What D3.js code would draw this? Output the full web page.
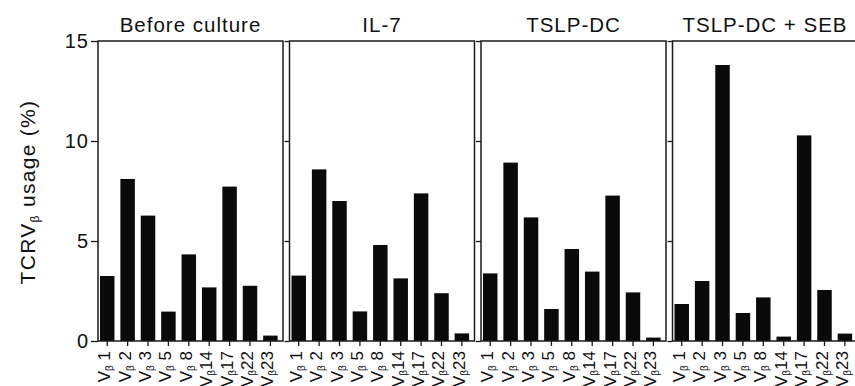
<!DOCTYPE html>
<html>
<head>
<meta charset="utf-8">
<script src="https://cdn.jsdelivr.net/npm/d3@7/dist/d3.min.js"></script>
<style>
  body { margin: 0; background: #fff; }
  svg text { font-family: "Liberation Sans", Arial, sans-serif; fill: #111; }
</style>
</head>
<body>
<script>
const panels = ["Before culture", "IL-7", "TSLP-DC", "TSLP-DC + SEB"];
const genes = ["1", "2", "3", "5", "8", "14", "17", "22", "23"];

// TCR Vbeta usage (%) per panel
const beforeCulture = [3.25, 8.1, 6.27, 1.47, 4.33, 2.68, 7.72, 2.76, 0.27];
const il7 = [3.27, 8.58, 7.0, 1.48, 4.8, 3.13, 7.38, 2.39, 0.38];
const tslpDc = [3.38, 8.92, 6.18, 1.6, 4.6, 3.47, 7.27, 2.43, 0.17];
const tslpDcSeb = [1.85, 3.0, 13.8, 1.4, 2.18, 0.22, 10.28, 2.55, 0.37];

const yTicks = [0, 5, 10, 15];
const seriesList = [beforeCulture, il7, tslpDc, tslpDcSeb];

let WIDTH = 855,
    HEIGHT = 386;

let svg = d3.select("body").append("svg")
  .attr("width", WIDTH)
  .attr("height", HEIGHT);

let y = d3.scaleLinear()
  .domain([0, 15])
  .range([341, 41]);

let panelX = d3.scaleBand()
  .domain(panels)
  .range([98, 857.5])
  .paddingInner(0.034)
  .paddingOuter(0);

let pw = panelX.bandwidth();

let x = d3.scaleBand()
  .domain(genes)
  .range([0, pw])
  .paddingInner(0.29)
  .paddingOuter(0.18)
  .align(0.27);

panels.forEach((name, p) => {
  let g = svg.append("g")
    .attr("transform", "translate(" + panelX(name) + ",0)");

  // bars
  let rows = genes.map((gene, i) => ({gene: gene, value: seriesList[p][i]}));
  g.selectAll(".bar")
    .data(rows)
  .enter().append("rect")
    .attr("class", "bar")
    .attr("x", d => x(d.gene))
    .attr("width", x.bandwidth())
    .attr("y", d => y(d.value))
    .attr("height", d => y(0) - y(d.value))
    .attr("fill", "#0a0a0a");

  // panel box
  g.append("rect")
    .attr("x", 0)
    .attr("y", y(15))
    .attr("width", pw)
    .attr("height", y(0) - y(15))
    .attr("fill", "none")
    .attr("stroke", "#1a1a1a")
    .attr("stroke-width", 1.5);

  // y axis
  let yAxis = d3.axisLeft(y)
    .tickValues(yTicks)
    .tickSize(p === 0 ? 7 : 5)
    .tickPadding(2);
  if (p > 0) yAxis.tickFormat("");
  let ya = g.append("g").call(yAxis);
  ya.select(".domain").remove();
  ya.selectAll("line").attr("stroke", "#1a1a1a").attr("stroke-width", 1.3);
  ya.selectAll("text")
    .attr("font-size", 20)
    .attr("letter-spacing", 1)
    .attr("fill", "#111");

  // x axis ticks
  let xa = g.append("g")
    .attr("transform", "translate(0," + y(0) + ")")
    .call(d3.axisBottom(x).tickSize(5).tickFormat(""));
  xa.select(".domain").remove();
  xa.selectAll("line").attr("stroke", "#1a1a1a").attr("stroke-width", 1.3);

  // rotated V-beta labels
  let lab = g.selectAll(".vlab")
    .data(genes)
  .enter().append("text")
    .attr("class", "vlab")
    .attr("transform", d => "translate(" + (x(d) + x.bandwidth() / 2) + ",351) rotate(-90)")
    .attr("text-anchor", "end")
    .attr("dy", 3)
    .attr("font-size", 17);
  lab.append("tspan").text("V");
  lab.append("tspan").attr("font-size", 10).attr("dy", 3).text("\u03b2");
  lab.append("tspan").attr("dy", -3).text(d => (d.length < 2 ? "\u00a0" : "") + d);

  // panel title
  g.append("text")
    .attr("x", pw / 2)
    .attr("y", 32)
    .attr("text-anchor", "middle")
    .attr("font-size", 20.5)
    .attr("letter-spacing", 1)
    .text(name);
});

// y axis title
let yt = svg.append("text")
  .attr("transform", "translate(35,192) rotate(-90)")
  .attr("text-anchor", "middle")
  .attr("font-size", 21)
  .attr("letter-spacing", 1.3);
yt.append("tspan").text("TCRV");
yt.append("tspan").attr("font-size", 12).attr("dy", 4).text("\u03b2");
yt.append("tspan").attr("dy", -4).text(" usage (%)");
</script>
</body>
</html>
